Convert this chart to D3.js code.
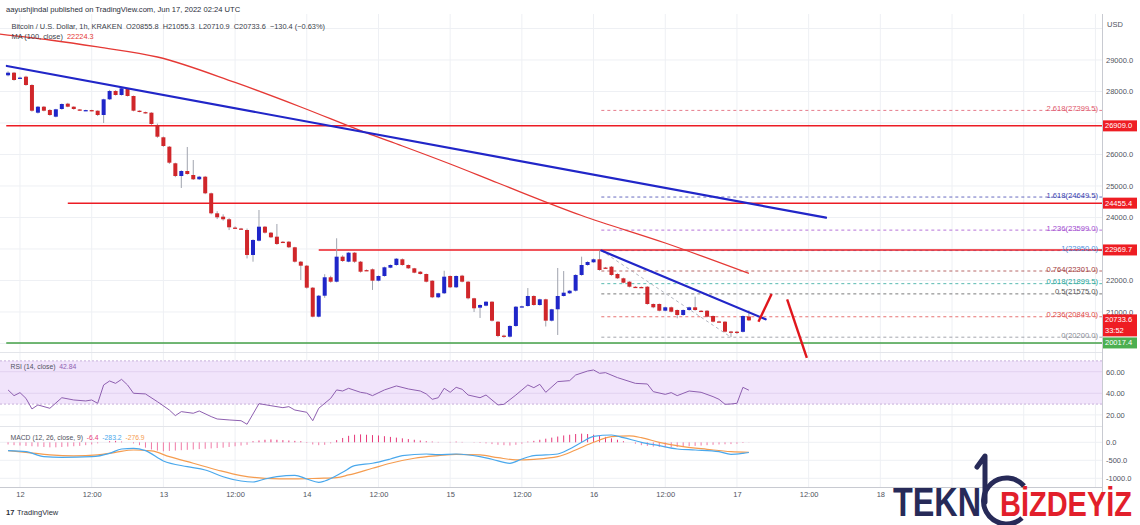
<!DOCTYPE html>
<html><head><meta charset="utf-8">
<script src="https://cdn.jsdelivr.net/npm/d3@7"></script>
<style>body{margin:0;background:#fff}svg{display:block}text{font-family:"Liberation Sans",Arial,sans-serif}</style>
</head><body><svg id="c" width="1140" height="525"></svg>
<script>
// ---------------- DATA ----------------
const firstBarTime = Date.UTC(2022, 5, 11, 22); // 1h bars, KRAKEN BTC/USD
const candleOpen = [28514,28597,28420,28470,28206,27327,27517,27413,27200,27444,27613,27517,27430,27400,27410,27390,27254,27752,28016,27889,28079,27857,27390,27345,27327,26937,26546,26248,25721,25317,25476,25349,25213,25295,24768,24133,24026,23943,23680,23650,23603,22810,23263,23708,23518,23391,23230,23232,23054,22597,22470,21772,20851,21517,22102,21962,22756,22597,22883,22597,22330,22355,21994,22143,22406,22492,22673,22492,22387,22279,22206,21994,21467,21594,22143,21784,22153,21962,21435,21137,21200,21327,20692,20250,20216,20556,21175,21190,21508,21222,21403,20724,21086,21508,21594,21676,22175,22492,22578,22673,22410,22438,22206,22070,21962,21800,21794,21803,21254,21254,21041,21149,21063,20905,21063,21149,21040,21041,20873,20700,20692,20380,20375,20370,20855.8];
const candleHigh = [28640,28620,28470,28500,28230,27540,27540,27440,27450,27620,27640,27530,27440,27420,27420,27400,27770,28050,28040,28130,28110,27870,27400,27360,27340,26980,26570,26270,25740,25500,26238,25825,25320,25320,24790,24200,24100,23980,23720,23670,23650,23310,24238,23730,23540,23794,23250,23250,23070,22620,22490,21790,21540,22200,22150,23340,22800,22900,22900,22620,22350,22380,22160,22440,22510,22710,22700,22510,22400,22300,22220,22010,21610,22310,22160,22160,22180,21980,21450,21240,21340,21340,20710,20280,20580,21190,21200,21760,21530,21420,21420,21100,22397,22300,21700,22200,22756,22610,22700,22950,22430,22460,22230,22090,21980,21820,21810,21820,21270,21270,21170,21170,21080,21080,21170,21486,21060,21060,20890,20720,20710,20400,20400,20890,21055.3];
const candleLow = [28480,28340,28400,28180,27360,27300,27370,27230,27180,27420,27500,27420,27390,27380,27370,27220,27000,27730,27870,27870,27840,27370,27340,27300,26940,26530,26240,25700,25280,24937,25360,25190,25190,24740,24100,23950,23900,23600,23640,23610,22700,22597,23240,23490,23350,23130,23200,23030,22570,22016,21740,20830,20830,21450,21930,21940,22590,22580,22560,22250,22300,21700,21970,22120,22390,22470,22470,22370,22230,22190,21940,21440,21440,21570,21760,21760,21940,21400,21000,20810,21180,20700,20200,20180,20190,20530,21150,21170,21200,21200,20540,20700,20270,21490,21570,21650,22150,22470,22560,22310,22380,22150,22050,21910,21780,21780,21770,21230,21120,21020,21020,20990,20800,20880,21040,21040,21010,20830,20670,20670,20350,20200,20300,20350,20710.9];
const candleClose = [28597,28365,28440,28206,27390,27517,27390,27254,27435,27603,27517,27444,27400,27410,27390,27254,27752,28016,27889,28102,27857,27390,27360,27327,26968,26565,26270,25740,25317,25476,25381,25213,25295,24768,24133,24006,23943,23689,23667,23635,22810,23286,23708,23518,23371,23159,23222,23054,22597,22470,21772,20851,21517,22102,21962,22756,22619,22883,22597,22279,22317,21994,22143,22419,22492,22692,22492,22387,22248,22206,21962,21467,21594,22121,21784,22143,21962,21435,21118,21222,21327,20724,20238,20238,20556,21168,21180,21508,21222,21403,20724,21086,21508,21613,21676,22175,22492,22587,22673,22333,22397,22175,22070,21930,21803,21794,21790,21254,21149,21041,21149,21009,20905,21063,21149,21063,21032,20851,20692,20692,20375,20375,20370,20873,20733.6];

const maBarIndex = [-3,7,15,25,38,49,60,66,74,82,96,110,124];
const maValue    = [29857,29635,29413,29095,28286,27508,26683,26270,25698,25095,24063,23190,22224.3];

const rsiBarIndex = [0,1,2,3,4,5,7,9,11,13,14,15,16,17,18,19,20,21,23,25,27,28,29,31,32,34,35,37,39,40,42,44,46,47,48,50,51,52,54,55,56,57,59,60,61,63,65,67,69,70,71,72,73,74,75,76,77,79,80,81,82,83,85,87,88,89,90,92,94,95,97,98,99,100,102,105,107,108,110,111,112,114,116,118,119,120,121,122,123,124];
const rsiValue    = [43.1,37.8,40.6,35.3,25.5,29.2,26.1,35.9,33.8,32.9,33.8,30.7,47.7,51.4,49.2,52.9,47.7,40,39.4,32.2,24.5,19.3,23,21.5,23.6,18.4,16.2,15.3,14.6,11.3,30.4,28.5,26.7,27.6,24.5,22.4,14.6,26.1,35.3,43.1,42.1,44.6,40.9,40,37.8,43.1,46.8,44,42.1,39.4,34.4,35.9,44.6,40.9,45.5,43.7,38.4,35.9,38.4,33.8,29.2,29.8,38.4,47.7,45.2,48.3,40.9,50.8,51.7,56.9,60.6,61.6,58.5,59.1,54.5,49.2,48.6,41.5,39,40.6,37.8,42.1,40.9,36.9,34.4,29.8,30.1,30.7,45.5,42.84];

const macdBarIndex = [0,3,6,9,14,17,19,21,23,26,30,33,36,39,41,43,45,48,50,52,53,56,58,61,64,66,70,72,75,79,81,84,86,88,92,94,96,98,101,103,106,109,112,115,119,121,123,124];
const macdValue    = [-233,-261,-400,-417,-400,-306,-186,-167,-233,-519,-678,-769,-956,-1075,-1103,-1019,-956,-917,-1019,-1111,-1075,-833,-650,-583,-464,-372,-325,-344,-325,-400,-472,-583,-464,-372,-325,-186,0,167,203,128,0,-94,-186,-214,-261,-333,-306,-283.2];
const signalBarIndex = [0,3,7,11,15,18,21,24,27,31,35,39,43,48,52,55,57,61,64,68,72,75,79,82,85,88,92,95,98,101,104,106,109,113,117,121,124];
const signalValue    = [-233,-278,-352,-380,-352,-278,-214,-241,-400,-583,-769,-926,-1000,-1019,-1000,-981,-907,-722,-583,-444,-372,-335,-352,-426,-490,-472,-400,-214,0,157,176,128,0,-120,-195,-261,-276.9];
const histValue = [-60,-80,-90,-100,-110,-120,-130,
  -140,-140,-130,-120,-110,-100,-80,-60,
  -30,0,30,40,20,0,-30,-80,
  -150,-200,-230,-250,-240,-230,-220,-210,
  -200,-190,-180,-170,-160,-150,-130,-110,-90,-70,
  30,50,70,80,70,60,50,40,30,
  -20,-60,-80,-70,-30,
  60,120,180,210,220,210,200,190,170,150,130,110,90,70,50,30,
  20,10,0,10,20,10,0,-10,-20,-30,
  -50,-70,-80,-90,-70,-40,
  20,40,70,100,130,160,190,210,230,240,230,210,180,150,110,
  70,30,0,-40,-80,
  -100,-120,-130,-140,-140,-130,-120,-110,-100,
  -90,-80,-70,-60,-55,-50,-40,-20,-6.4];

const priceTicks = [29000,28000,26000,25000,24000,22000,21000];
const priceGrid  = [20000,21000,22000,23000,24000,25000,26000,27000,28000,29000,30000];
const rsiTicks = [60,40,20];
const macdTicks = [0,-500,-1000];

const levelPrices = [26909.0, 24455.4, 22969.7];
const levelStartBar = [-0.3, 10, 52];
const supportPrice = 20017.4;
const lastPrice = 20733.6;

const trendStartBar = [-0.2, 99.3];
const trendStartPrice = [28810, 22950];
const trendEndBar = [136.9, 126.8];
const trendEndPrice = [23994, 20768];

const arrowStartBar = [125.6, 130.4];
const arrowStartPrice = [20692, 21403];
const arrowEndBar = [127.8, 133.7];
const arrowEndPrice = [21572, 19540];

const fibRatios = ["2.618","1.618","1.236","1","0.764","0.618","0.5","0.236","0"];
const fibPrices = [27399.5,24649.5,23599.0,22950.0,22301.0,21899.5,21575.0,20849.0,20200.0];
const fibColors = ["#e0566a","#3c3fae","#a24bd0","#4a8fe0","#a23a3a","#26a69a","#555","#e04848","#8a8d96"];
const fibStartBar = 99.3, fibLowBar = 121;

// ---------------- SETUP ----------------
const HOUR = 3600e3;
const barTime = i => new Date(firstBarTime + i * HOUR);
const svg = d3.select('#c');
const plotRight = 1102;
const P = {top: 14, bottom: 352};
const R = {top: 353, bottom: 426};
const M = {top: 427, bottom: 487};

const x = d3.scaleUtc().domain([barTime(-1.347), barTime(183.1)]).range([0, plotRight]);
const y = d3.scaleLinear().domain([19730, 30460]).range([P.bottom, P.top]);
const yr = d3.scaleLinear().domain([9.7, 77.3]).range([R.bottom, R.top]);
const ym = d3.scaleLinear().domain([-1242, 425]).range([M.bottom, M.top]);

const defs = svg.append('defs');
[['cp', P], ['cr', R], ['cm', M]].forEach(([id, p]) => {
  defs.append('clipPath').attr('id', id).append('rect').attr('x', 0).attr('y', p.top).attr('width', plotRight).attr('height', p.bottom - p.top);
});

const gridColor = '#eef0f4';
const axisText = '#50535e';
const fs = 7.5;

const timeTicks = x.ticks(d3.utcHour.every(12));
svg.append('g').selectAll('line').data(timeTicks).join('line')
  .attr('x1', d => x(d)).attr('x2', d => x(d)).attr('y1', P.top).attr('y2', M.bottom)
  .attr('stroke', gridColor).attr('stroke-width', 1);

svg.append('g').selectAll('line').data(priceGrid).join('line')
  .attr('x1', 0).attr('x2', plotRight).attr('y1', d => y(d)).attr('y2', d => y(d))
  .attr('stroke', gridColor);
svg.append('g').selectAll('line').data(rsiTicks).join('line')
  .attr('x1', 0).attr('x2', plotRight).attr('y1', d => yr(d)).attr('y2', d => yr(d)).attr('stroke', gridColor);
svg.append('g').selectAll('line').data(macdTicks).join('line')
  .attr('x1', 0).attr('x2', plotRight).attr('y1', d => ym(d)).attr('y2', d => ym(d)).attr('stroke', gridColor);

[R.top - 0.5, M.top - 0.5].forEach(v => svg.append('line').attr('x1', 0).attr('x2', plotRight).attr('y1', v).attr('y2', v).attr('stroke', '#e3e5ea').attr('stroke-width', 1));

// ---------------- PRICE PANEL ----------------
const gp = svg.append('g').attr('clip-path', 'url(#cp)');

const fibG = gp.append('g');
fibPrices.forEach((p, k) => {
  fibG.append('line').attr('x1', x(barTime(fibStartBar))).attr('x2', plotRight)
    .attr('y1', y(p)).attr('y2', y(p)).attr('stroke', fibColors[k]).attr('stroke-width', 0.9)
    .attr('stroke-dasharray', '3,3').attr('opacity', 0.85);
});
fibG.append('line')
  .attr('x1', x(barTime(fibStartBar))).attr('y1', y(fibPrices[3]))
  .attr('x2', x(barTime(fibLowBar))).attr('y2', y(fibPrices[8]))
  .attr('stroke', '#a9adb8').attr('stroke-width', 0.9).attr('stroke-dasharray', '3,3');

levelPrices.forEach((p, k) => {
  gp.append('line').attr('x1', x(barTime(levelStartBar[k]))).attr('x2', plotRight)
    .attr('y1', y(p)).attr('y2', y(p)).attr('stroke', '#ec1c24').attr('stroke-width', 1.5);
});
gp.append('line').attr('x1', x(barTime(-0.3))).attr('x2', plotRight)
  .attr('y1', y(supportPrice)).attr('y2', y(supportPrice)).attr('stroke', '#43a047').attr('stroke-width', 1.5);

const maPts = maBarIndex.map((b, k) => [x(barTime(b)), y(maValue[k])]);
gp.append('path').attr('d', d3.line().curve(d3.curveMonotoneX)(maPts))
  .attr('fill', 'none').attr('stroke', '#e53935').attr('stroke-width', 1.3);

const bars = d3.range(candleOpen.length).map(i => ({i, t: barTime(i), o: candleOpen[i], h: candleHigh[i], l: candleLow[i], c: candleClose[i]}));
const upC = '#1f26c9', dnC = '#d0262a';
gp.append('g').selectAll('line').data(bars).join('line')
  .attr('x1', d => x(d.t)).attr('x2', d => x(d.t))
  .attr('y1', d => y(d.h)).attr('y2', d => y(d.l))
  .attr('stroke', '#a0a4ae').attr('stroke-width', 1);
gp.append('g').selectAll('rect').data(bars).join('rect')
  .attr('x', d => x(d.t) - 2).attr('width', 4)
  .attr('y', d => y(Math.max(d.o, d.c)))
  .attr('height', d => Math.max(1.3, Math.abs(y(d.o) - y(d.c))))
  .attr('fill', d => d.c >= d.o ? upC : dnC);

trendStartBar.forEach((b, k) => {
  gp.append('line')
    .attr('x1', x(barTime(b))).attr('y1', y(trendStartPrice[k]))
    .attr('x2', x(barTime(trendEndBar[k]))).attr('y2', y(trendEndPrice[k]))
    .attr('stroke', '#2126c8').attr('stroke-width', 2.2).attr('stroke-linecap', 'round');
});

fibPrices.forEach((p, k) => {
  gp.append('text').attr('x', 1098).attr('y', y(p) + 0.5).attr('text-anchor', 'end')
    .attr('font-size', 7.6).attr('fill', fibColors[k])
    .text(`${fibRatios[k]}(${d3.format('.1f')(p)})`);
});

arrowStartBar.forEach((b, k) => {
  svg.append('line')
    .attr('x1', x(barTime(b))).attr('y1', y(arrowStartPrice[k]))
    .attr('x2', x(barTime(arrowEndBar[k]))).attr('y2', y(arrowEndPrice[k]))
    .attr('stroke', '#e0161c').attr('stroke-width', 2.4);
});

// ---------------- RSI PANEL ----------------
const gr = svg.append('g').attr('clip-path', 'url(#cr)');
gr.append('rect').attr('x', 0).attr('width', plotRight).attr('y', yr(70)).attr('height', yr(30) - yr(70))
  .attr('fill', '#f1e4fb');
[70, 30].forEach(v => gr.append('line').attr('x1', 0).attr('x2', plotRight).attr('y1', yr(v)).attr('y2', yr(v))
  .attr('stroke', '#c6b0da').attr('stroke-dasharray', '2,2'));
[60, 40].forEach(v => gr.append('line').attr('x1', 0).attr('x2', plotRight).attr('y1', yr(v)).attr('y2', yr(v))
  .attr('stroke', '#e2d2f0'));
const rsiPts = rsiBarIndex.map((b, k) => [x(barTime(b)), yr(rsiValue[k])]);
gr.append('path').attr('d', d3.line()(rsiPts)).attr('fill', 'none').attr('stroke', '#8e5fb0').attr('stroke-width', 1);

// ---------------- MACD PANEL ----------------
const gm = svg.append('g').attr('clip-path', 'url(#cm)');
gm.append('g').selectAll('line').data(histValue).join('line')
  .attr('x1', (d, i) => x(barTime(i))).attr('x2', (d, i) => x(barTime(i)))
  .attr('y1', ym(0)).attr('y2', d => ym(d))
  .attr('stroke', d => d >= 0 ? '#e6397a' : '#f07aa6').attr('stroke-width', 1);
const macdPts = macdBarIndex.map((b, k) => [x(barTime(b)), ym(macdValue[k])]);
const sigPts = signalBarIndex.map((b, k) => [x(barTime(b)), ym(signalValue[k])]);
gm.append('path').attr('d', d3.line().curve(d3.curveMonotoneX)(sigPts)).attr('fill', 'none').attr('stroke', '#f59c4f').attr('stroke-width', 1.2);
gm.append('path').attr('d', d3.line().curve(d3.curveMonotoneX)(macdPts)).attr('fill', 'none').attr('stroke', '#4aa8ec').attr('stroke-width', 1.2);

// ---------------- AXES ----------------
svg.append('line').attr('x1', plotRight + 0.5).attr('x2', plotRight + 0.5).attr('y1', P.top).attr('y2', M.bottom + 13).attr('stroke', '#c8cad1');
svg.append('line').attr('x1', 0).attr('x2', plotRight).attr('y1', M.bottom + 0.5).attr('y2', M.bottom + 0.5).attr('stroke', '#c8cad1');

const fontFam = '"Liberation Sans",Arial,sans-serif';
const yAxis = d3.axisRight(y).tickValues(priceTicks).tickFormat(d3.format('.1f')).tickSize(0).tickPadding(4);
svg.append('g').attr('transform', `translate(${plotRight},0)`).call(yAxis)
  .call(g => g.select('.domain').remove())
  .selectAll('text').attr('font-size', fs).attr('fill', axisText).attr('font-family', fontFam);
svg.append('text').attr('x', 1107).attr('y', 27).attr('font-size', fs).attr('fill', axisText).text('USD');

svg.append('g').attr('transform', `translate(${plotRight},0)`)
  .call(d3.axisRight(yr).tickValues(rsiTicks).tickFormat(d3.format('.2f')).tickSize(0).tickPadding(4))
  .call(g => g.select('.domain').remove())
  .selectAll('text').attr('font-size', fs).attr('fill', axisText).attr('font-family', fontFam);
svg.append('g').attr('transform', `translate(${plotRight},0)`)
  .call(d3.axisRight(ym).tickValues(macdTicks).tickSize(0).tickPadding(4).tickFormat(d => d3.format('.1f')(d).replace('−', '-')))
  .call(g => g.select('.domain').remove())
  .selectAll('text').attr('font-size', fs).attr('fill', axisText).attr('font-family', fontFam);

const labelTicks = timeTicks.filter(d => x(d) < 900);
const xAxis = d3.axisBottom(x).tickValues(labelTicks).tickSize(0).tickPadding(5)
  .tickFormat(d => d.getUTCHours() === 0 ? String(d.getUTCDate()) : '12:00');
svg.append('g').attr('transform', `translate(0,${M.bottom})`).call(xAxis)
  .call(g => g.select('.domain').remove())
  .selectAll('text').attr('font-size', fs).attr('fill', axisText).attr('font-family', fontFam);

function badge(p, color, label, sub) {
  const yy = y(p);
  const h = sub ? 22 : 11;
  const top = sub ? yy - 6 : yy - 5.5;
  svg.append('rect').attr('x', plotRight + 1).attr('y', top).attr('width', 34).attr('height', h).attr('fill', color);
  svg.append('text').attr('x', plotRight + 3).attr('y', top + 8).attr('font-size', fs).attr('fill', '#fff').text(label);
  if (sub) svg.append('text').attr('x', plotRight + 3).attr('y', top + 19).attr('font-size', fs).attr('fill', '#fff').text(sub);
}
levelPrices.forEach(p => badge(p, '#ee1d23', d3.format('.1f')(p)));
badge(lastPrice, '#ee1d23', d3.format('.1f')(lastPrice), '33:52');
badge(supportPrice, '#4caf50', d3.format('.1f')(supportPrice));

// ---------------- LEGENDS ----------------
svg.append('text').attr('x', 6).attr('y', 11.5).attr('font-size', 7.6).attr('fill', '#2a2e39')
  .text('aayushjindal published on TradingView.com, Jun 17, 2022 02:24 UTC');
svg.append('text').attr('x', 11.5).attr('y', 28.5).attr('font-size', 7.4).attr('fill', '#3a3e49')
  .attr('xml:space', 'preserve')
  .text('Bitcoin / U.S. Dollar, 1h, KRAKEN  O20855.8  H21055.3  L20710.9  C20733.6  −130.4 (−0.63%)');
const maT = svg.append('text').attr('x', 11.5).attr('y', 38.5).attr('font-size', 7.4).attr('xml:space', 'preserve');
maT.append('tspan').attr('fill', '#3a3e49').text('MA (100, close)  ');
maT.append('tspan').attr('fill', '#e53935').text(d3.format('.1f')(maValue[maValue.length - 1]));

const rT = svg.append('text').attr('x', 10.5).attr('y', 369).attr('font-size', 6.8).attr('xml:space', 'preserve');
rT.append('tspan').attr('fill', '#50535e').text('RSI (14, close)  ');
rT.append('tspan').attr('fill', '#8e5fb0').text(d3.format('.2f')(rsiValue[rsiValue.length - 1]));

const mT = svg.append('text').attr('x', 10.5).attr('y', 440).attr('font-size', 6.8).attr('xml:space', 'preserve');
mT.append('tspan').attr('fill', '#50535e').text('MACD (12, 26, close, 9)  ');
mT.append('tspan').attr('fill', '#e6397a').text(d3.format('.1f')(histValue[histValue.length - 1]).replace('−','-') + '  ');
mT.append('tspan').attr('fill', '#4aa8ec').text(d3.format('.1f')(macdValue[macdValue.length - 1]).replace('−','-') + '  ');
mT.append('tspan').attr('fill', '#f59c4f').text(d3.format('.1f')(signalValue[signalValue.length - 1]).replace('−','-'));

svg.append('text').attr('x', 6).attr('y', 515).attr('font-size', 7.5).attr('font-weight', 'bold').attr('fill', '#2a2e39').text('17');
svg.append('text').attr('x', 17).attr('y', 515).attr('font-size', 7.5).attr('fill', '#2a2e39').text('TradingView');

// watermark logo
const logo = svg.append('g');
const navy = '#272a58';
const logoFont = '"DejaVu Sans Condensed","DejaVu Sans",sans-serif';
logo.append('text').attr('transform', 'translate(893,516) scale(1,1.22)')
  .attr('font-family', logoFont).attr('font-weight', 'bold').attr('font-size', 33).attr('fill', navy)
  .attr('textLength', 88).attr('lengthAdjust', 'spacingAndGlyphs').text('TEKN');
logo.append('path').attr('d', 'M985,502 L985,456 L977,467')
  .attr('fill', 'none').attr('stroke', navy).attr('stroke-width', 5).attr('stroke-linejoin', 'round').attr('stroke-linecap', 'round');
logo.append('path').attr('d', 'M1024,486 A23,23 0 1,0 1022,518')
  .attr('fill', 'none').attr('stroke', navy).attr('stroke-width', 5);
logo.append('text').attr('transform', 'translate(1000,516) scale(1,1.28)')
  .attr('font-family', logoFont).attr('font-weight', 'bold').attr('font-size', 28).attr('fill', '#e21f2b')
  .attr('textLength', 132).attr('lengthAdjust', 'spacingAndGlyphs').text('BİZDEYİZ');
</script></body></html>
